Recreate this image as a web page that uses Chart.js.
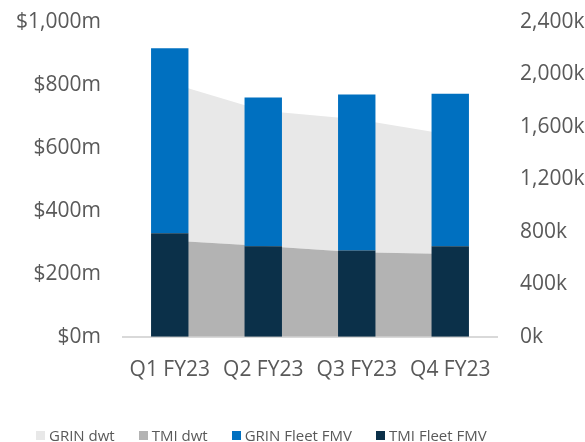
<!DOCTYPE html>
<html>
<head>
<meta charset="utf-8">
<script src="https://cdn.jsdelivr.net/npm/chart.js@4/dist/chart.umd.min.js"></script>
<style>
  html, body { margin: 0; padding: 0; background: #fff; }
  #wrap { position: relative; width: 585px; height: 442px; }
  #legend {
    position: absolute; left: 36px; top: 426px; display: flex;
    font-family: 'Open Sans', sans-serif; font-size: 15px; color: #595959;
  }
  #legend span.item { display: flex; align-items: center; margin-right: 24px; white-space: nowrap; line-height: 18px; }
  #legend span.box { width: 9px; height: 9px; margin-right: 4px; display: inline-block; }
</style>
</head>
<body>
<div id="wrap">
  <canvas id="chart" width="585" height="442"></canvas>
  <div id="legend"></div>
</div>
<script>
  // Quarters
  const labels = ['Q1 FY23', 'Q2 FY23', 'Q3 FY23', 'Q4 FY23'];

  // Fleet fair market value, $m (left axis)
  const tmiFleetFmv = [329, 288, 274, 288];
  const grinFleetFmv = [588, 472, 496, 484];

  // Deadweight tonnage, k dwt (right axis)
  const tmiDwt = [735, 692, 644, 631];
  const grinDwt = [1202, 1032, 1015, 909];

  const colors = {
    grinDwt: '#e8e8e8',
    tmiDwt: '#b3b3b3',
    grinFmv: '#0070c0',
    tmiFmv: '#0b3049',
  };

  const tickFont = { family: "'Open Sans', sans-serif", size: 21 };
  const textColor = '#595959';

  // Fixed axis widths; drop the tick padding that Chart.js adds above/below.
  function fixWidth(width) {
    return function (scale) {
      scale.width = width;
      scale.paddingTop = 12;
      scale.paddingBottom = 12;
    };
  }

  new Chart(document.getElementById('chart'), {
    data: {
      labels: labels,
      datasets: [
        { type: 'bar', label: 'TMI Fleet FMV', data: tmiFleetFmv, backgroundColor: colors.tmiFmv, yAxisID: 'y', order: 0 },
        { type: 'bar', label: 'GRIN Fleet FMV', data: grinFleetFmv, backgroundColor: colors.grinFmv, yAxisID: 'y', order: 0 },
        { type: 'line', label: 'TMI dwt', data: tmiDwt, backgroundColor: colors.tmiDwt, borderWidth: 0, pointRadius: 0, tension: 0, fill: 'origin', yAxisID: 'y1', order: 1 },
        { type: 'line', label: 'GRIN dwt', data: grinDwt, backgroundColor: colors.grinDwt, borderWidth: 0, pointRadius: 0, tension: 0, fill: '-1', yAxisID: 'y1', order: 1 },
      ],
    },
    options: {
      responsive: false,
      animation: false,
      layout: { padding: { top: 22, bottom: 38, left: 0, right: 0 } },
      datasets: {
        bar: { barPercentage: 0.4, categoryPercentage: 1 },
      },
      plugins: {
        legend: { display: false },
        tooltip: { enabled: false },
      },
      scales: {
        x: {
          stacked: true,
          offset: true,
          grid: { display: false, drawTicks: false },
          border: { color: '#d9d9d9', width: 2 },
          ticks: { font: tickFont, color: textColor, padding: 21 },
        },
        y: {
          stacked: true,
          position: 'left',
          min: 0,
          max: 1000,
          grid: { display: false, drawTicks: false },
          border: { display: false },
          afterFit: fixWidth(123),
          ticks: {
            stepSize: 200,
            font: tickFont,
            color: textColor,
            padding: 22,
            callback: function (value) {
              return '$' + value.toLocaleString('en-US') + 'm';
            },
          },
        },
        y1: {
          stacked: true,
          position: 'right',
          min: 0,
          max: 2400,
          grid: { display: false, drawTicks: false },
          border: { display: false },
          afterFit: fixWidth(88),
          ticks: {
            stepSize: 400,
            font: tickFont,
            color: textColor,
            padding: 23,
            callback: function (value) {
              return value.toLocaleString('en-US') + 'k';
            },
          },
        },
      },
    },
  });

  // Legend in the reference order
  const legendItems = [
    ['GRIN dwt', colors.grinDwt],
    ['TMI dwt', colors.tmiDwt],
    ['GRIN Fleet FMV', colors.grinFmv],
    ['TMI Fleet FMV', colors.tmiFmv],
  ];
  const legend = document.getElementById('legend');
  legendItems.forEach(function (it) {
    const item = document.createElement('span');
    item.className = 'item';
    const box = document.createElement('span');
    box.className = 'box';
    box.style.background = it[1];
    item.appendChild(box);
    item.appendChild(document.createTextNode(it[0]));
    legend.appendChild(item);
  });
</script>
</body>
</html>
